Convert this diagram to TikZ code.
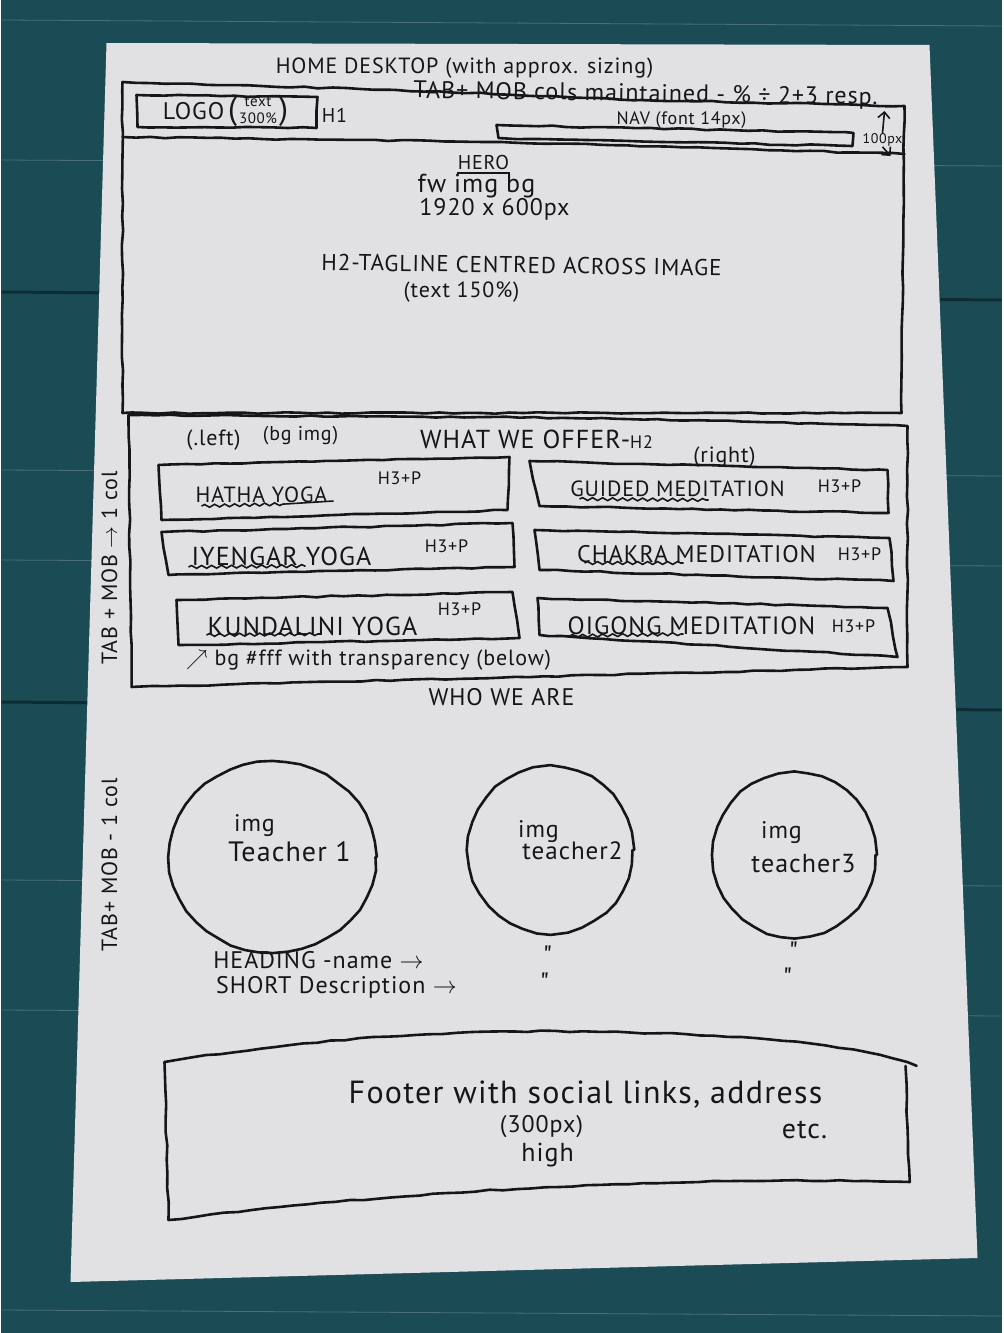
\documentclass[tikz,border=0pt]{standalone}
\usepackage{fontspec}
\setmainfont{PT Sans}[LetterSpace=4]
\usetikzlibrary{decorations.pathmorphing,arrows.meta,positioning}
\definecolor{deck}{RGB}{27,76,86}
\definecolor{deckseam}{RGB}{14,44,52}
\definecolor{sheet}{RGB}{225,225,228}
\definecolor{ink}{RGB}{22,22,24}
\newcommand{\hsz}[1]{\fontsize{#1}{#1}\selectfont}
\tikzset{
  pen/.style={draw=ink, line width=1.3pt, line cap=round, line join=round,
    decorate, decoration={random steps, segment length=7pt, amplitude=0.35pt}},
  wiggle/.style={draw=ink, line width=0.8pt, decorate,
    decoration={snake, amplitude=0.7pt, segment length=5pt}},
  hand/.style={text=ink, inner sep=0pt},
  tick/.style={draw=ink, line width=0.8pt, -{Straight Barb[length=3pt]}},
}

\begin{document}
\begin{tikzpicture}[x=0.5pt, y=-0.5pt]
    \pgfmathsetseed{42}
    % wooden deck behind the sheet
    \fill[deck] (0,0) rectangle (1000,1333);
    \foreach \yy in {20, 160, 470, 560, 880, 1010, 1310} {
        \draw[deck!80!white, line width=0.4pt] (0,\yy) -- (1000,\yy+6);
    }
    \foreach \yy in {292, 702} {
        \draw[deckseam, line width=1.5pt] (0,\yy) -- (1000,\yy+8);
    }
    \useasboundingbox (0,0) rectangle (1000,1333);

    % paper sheet
    \fill[sheet] (105,43) -- (928,45) -- (976,1258) -- (69,1282) -- cycle;

    % header and hero frame
    \draw[pen] (121,413) -- (121,82) -- (395,90) -- (640,100) -- (903,106) -- (900,413) -- cycle;
    \draw[pen] (121,137) -- (500,142) -- (903,154);
    \draw[pen] (135,95) -- (316,97) -- (315,128) -- (136,127) -- cycle;
    \draw[pen] (495,125) -- (852,133) -- (851,146) -- (497,138) -- cycle;

    \node[hand, font=\hsz{11}] (title) at (463,68) {HOME DESKTOP (with approx. sizing)};
    \node[hand, font=\hsz{12}, rotate=-0.8] (colsnote) at (644,95) {TAB+ MOB cols maintained - \% ÷ 2+3 resp.};
    \node[hand, font=\hsz{12}] (logo) at (224,112)
        {LOGO\,{\hsz{16}(}\kern1pt\raisebox{-2pt}{\fontsize{7.5}{10.5}\selectfont\shortstack{text\\300\%}}\kern1pt{\hsz{16})}};
    \node[hand, font=\hsz{10}] (hone) at (333,115) {H1};
    \node[hand, font=\hsz{9}] (navlbl) at (680,120) {NAV (font 14px)};
    \node[hand, font=\hsz{7}] (pxnote) at (881,140) {100px};
    \coordinate (pxtop) at (883,111);
    \coordinate (pxbot) at (889,156);
    \draw[tick] (pxnote.north) -- (pxtop);
    \draw[tick] (pxnote.south) -- (pxbot);

    % hero
    \node[hand, font=\hsz{10}] (heroh) at (482,162) {HERO};
    \draw[ink, line width=1pt] ([yshift=-1.5pt]heroh.south west) -- ([yshift=-1.5pt]heroh.south east);
    \node[hand, font=\hsz{13}] (heroimg) at (475,186) {fw img bg};
    \node[hand, font=\hsz{12}] (herosize) at (493,209) {1920 x 600px};
    \node[hand, font=\hsz{11.5}, rotate=-0.8] (tagline) at (520,265) {H2-TAGLINE CENTRED ACROSS IMAGE};
    \node[hand, font=\hsz{11}] (tagsize) at (460,292) {(text 150\%)};

    % what we offer
    \draw[pen] (127,415) -- (600,418) -- (906,426) -- (906,667) -- (130,687) -- cycle;
    \node[hand, font=\hsz{11}] (leftnote) at (212,440) {(.left)};
    \node[hand, font=\hsz{10}] (bgnote) at (299,436) {(bg img)};
    \node[hand, font=\hsz{13}] (offer) at (535,439) {WHAT WE OFFER-{\hsz{9}H2}};
    \node[hand, font=\hsz{11}] (rightnote) at (723,457) {(right)};

    \draw[pen] (157,465) -- (508,457) -- (506,510) -- (160,520) -- cycle;
    \draw[pen] (528,461) -- (886,470) -- (887,513) -- (538,506) -- cycle;
    \draw[pen] (160,532) -- (511,523) -- (513,567) -- (167,575) -- cycle;
    \draw[pen] (533,530) -- (888,538) -- (892,581) -- (538,570) -- cycle;
    \draw[pen] (175,600) -- (511,592) -- (518,638) -- (177,645) -- cycle;
    \draw[pen] (536,598) -- (886,608) -- (896,657) -- (538,635) -- cycle;

    \node[hand, font=\hsz{11}] (hatha) at (260,495) {HATHA YOGA};
    \node[hand, font=\hsz{9}] (hathap) at (398,478) {H3+P};
    \node[hand, font=\hsz{11}] (guided) at (676,489) {GUIDED MEDITATION};
    \node[hand, font=\hsz{9}] (guidedp) at (838,486) {H3+P};
    \node[hand, font=\hsz{13}] (iyengar) at (280,556) {IYENGAR YOGA};
    \node[hand, font=\hsz{9}] (iyengarp) at (445,546) {H3+P};
    \node[hand, font=\hsz{12}] (chakra) at (695,554) {CHAKRA MEDITATION};
    \node[hand, font=\hsz{9}] (chakrap) at (858,554) {H3+P};
    \node[hand, font=\hsz{13}] (kundalini) at (311,626) {KUNDALINI YOGA};
    \node[hand, font=\hsz{9}] (kundalinip) at (458,609) {H3+P};
    \node[hand, font=\hsz{12.5}] (qigong) at (690,628) {QIGONG MEDITATION};
    \node[hand, font=\hsz{9}] (qigongp) at (852,626) {H3+P};

    % spelling squiggles
    \draw[wiggle] (200,506) -- (284,504);
    \draw[ink, line width=0.8pt] (284,504) -- (332,501);
    \draw[wiggle] (578,499) -- (707,500);
    \draw[wiggle] (187,567) -- (304,566);
    \draw[wiggle] (583,563) -- (682,563);
    \draw[wiggle] (205,635) -- (319,634);
    \draw[wiggle] (568,636) -- (682,634);

    \node[hand, font=\hsz{11}] (belownote) at (367,660) {$\nearrow$ bg \#fff with transparency (below)};
    \node[hand, font=\hsz{12}] (who) at (500,697) {WHO WE ARE};

    % breakpoint notes
    \node[hand, font=\hsz{11}, rotate=90] (tabone) at (108,568) {TAB + MOB $\rightarrow$ 1 col};
    \node[hand, font=\hsz{11}, rotate=90] (tabtwo) at (108,865) {TAB+ MOB - 1 col};

    % teachers
    \draw[pen] (271,857) ellipse [x radius=103, y radius=95];
    \draw[pen] (549,850) ellipse [x radius=82, y radius=83];
    \draw[pen] (793,855) ellipse [x radius=81, y radius=82];
    \node[hand, font=\hsz{12}] (imgone) at (253,826) {img};
    \node[hand, font=\hsz{14}] (tone) at (288,852) {Teacher 1};
    \node[hand, font=\hsz{12}] (imgtwo) at (537,832) {img};
    \node[hand, font=\hsz{12.5}] (ttwo) at (571,851) {teacher2};
    \node[hand, font=\hsz{12}] (imgthree) at (780,833) {img};
    \node[hand, font=\hsz{13}] (tthree) at (802,864) {teacher3};

    \node[hand, font=\hsz{12}] (heading) at (317,960) {HEADING -name $\rightarrow$};
    \node[hand, font=\hsz{12}] (shortdesc) at (335,987) {SHORT Description $\rightarrow$};
    \foreach \dx/\dy [count=\k] in {546/956, 543/983, 792/952, 786/978} {
        \node[hand, font=\hsz{14}] (ditto\k) at (\dx,\dy) {\textquotedbl};
    }

    % footer
    \draw[pen] (163,1062) .. controls (300,1040) and (450,1028) .. (600,1032)
        .. controls (750,1034) and (860,1045) .. (915,1066);
    \draw[pen] (163,1062) -- (167,1220) .. controls (400,1190) and (700,1175) .. (908,1182) -- (904,1066);
    \node[hand, font=\hsz{16}] (footer) at (584,1095) {Footer with social links, address};
    \node[hand, font=\hsz{12}] (footpx) at (540,1127) {(300px)};
    \node[hand, font=\hsz{13}] (foothigh) at (546,1155) {high};
    \node[hand, font=\hsz{14}] (footetc) at (803,1130) {etc.};
\end{tikzpicture}
\end{document}
